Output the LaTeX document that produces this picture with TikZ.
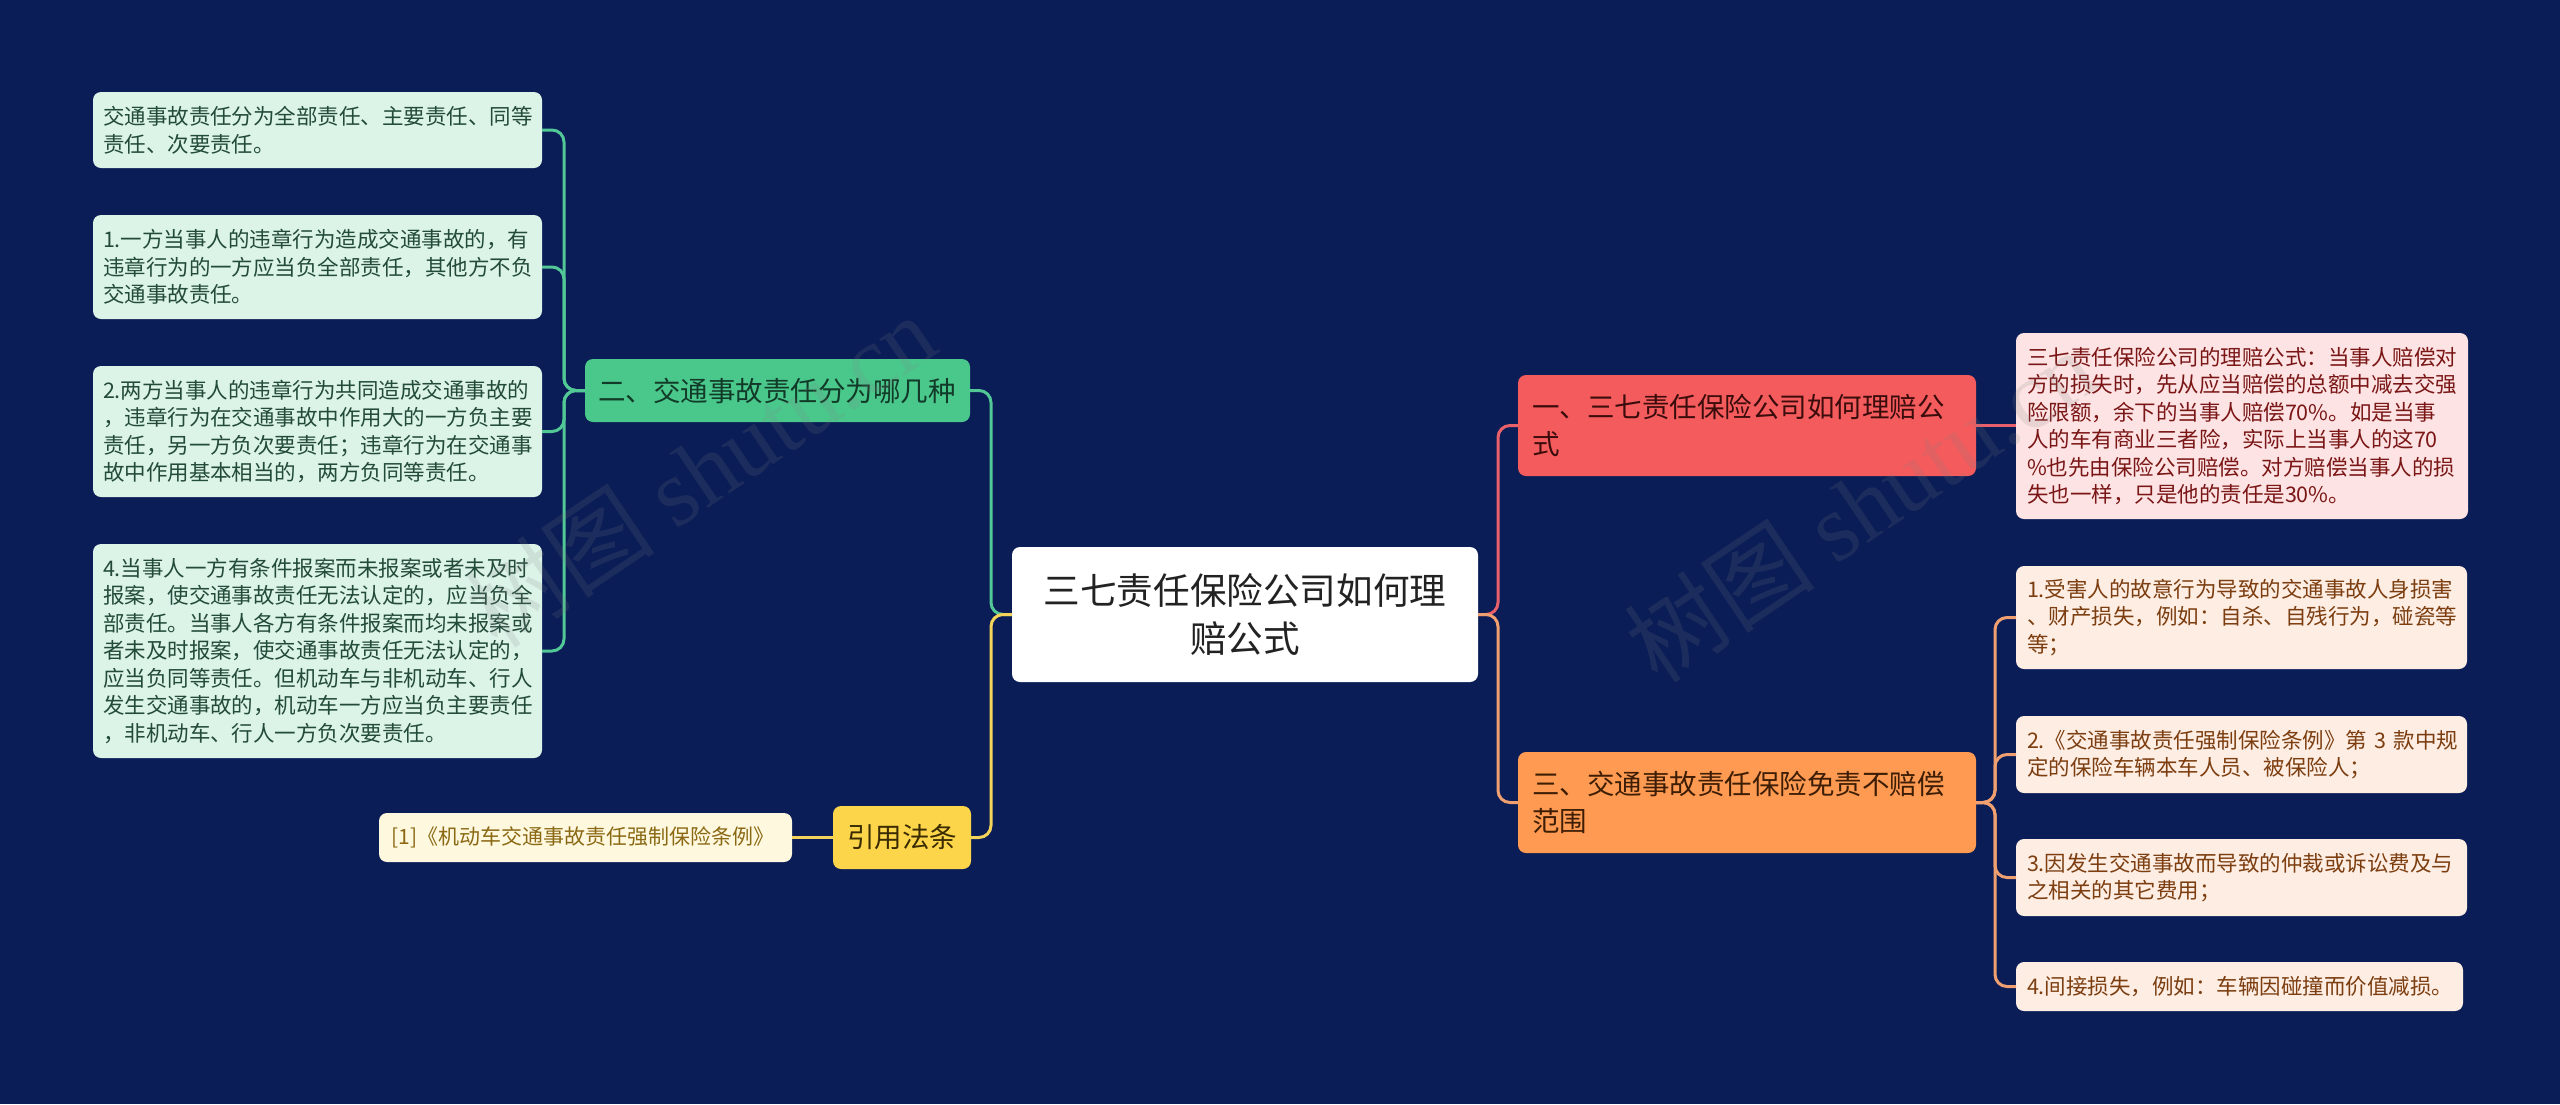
\documentclass[tikz,border=0pt]{standalone}
\usepackage{fontspec}
\setmainfont{Noto Sans CJK SC}
\newfontfamily\wmserif{Liberation Serif}
\usetikzlibrary{calc}
\definecolor{bgc}{HTML}{0A1D56}
\definecolor{rootfill}{HTML}{FFFFFF}
\definecolor{roottext}{HTML}{222222}
\definecolor{gfill}{HTML}{4AC88C}
\definecolor{gtext}{HTML}{123A28}
\definecolor{lgfill}{HTML}{DCF3E8}
\definecolor{lgtext}{HTML}{234B39}
\definecolor{gline}{HTML}{52C896}
\definecolor{rfill}{HTML}{F45B5C}
\definecolor{rtext}{HTML}{3B0C0C}
\definecolor{pkfill}{HTML}{FDE3E3}
\definecolor{pktext}{HTML}{7A1616}
\definecolor{rline}{HTML}{E8606A}
\definecolor{ofill}{HTML}{FF9A52}
\definecolor{otext}{HTML}{3D1E05}
\definecolor{pcfill}{HTML}{FDEDE3}
\definecolor{pctext}{HTML}{7C3E10}
\definecolor{oline}{HTML}{F0A070}
\definecolor{yfill}{HTML}{FDD54A}
\definecolor{ytext}{HTML}{3A2C00}
\definecolor{cfill}{HTML}{FEF8DE}
\definecolor{ctext}{HTML}{8B6914}
\definecolor{yline}{HTML}{F3D35A}
\tikzset{
  box/.style={rounded corners=4pt, inner sep=0pt, outer sep=0pt},
  rootbox/.style={box, fill=rootfill, text=roottext, align=center,
    font=\fontsize{18.3}{24}\selectfont, text width=220pt,
    minimum width=233pt, minimum height=67.5pt},
  branchbox/.style={box, align=left, font=\fontsize{13.75}{18.3}\selectfont},
  ldet/.style={box, fill=lgfill, text=lgtext, align=left,
    font=\fontsize{10.75}{13.75}\selectfont, text width=214.5pt, minimum width=224.5pt},
  pdet/.style={box, fill=pcfill, text=pctext, align=left,
    font=\fontsize{10.75}{13.75}\selectfont},
  conn/.style={line width=1.5pt, rounded corners=6pt},
  wm/.style={text=gray, opacity=0.16, font=\fontsize{48}{48}\selectfont, rotate=34, inner sep=0pt}
}
\begin{document}
\begin{tikzpicture}[x=0.5pt,y=-0.5pt]
\fill[bgc] (0,0) rectangle (2560,1104);
\useasboundingbox (0,0) rectangle (2560,1104);

% root
\node[rootbox] (root) at (1245,614.5) {三七责任保险公司如何理\\赔公式};

% right branches
\node[branchbox, fill=rfill, text=rtext, text width=215pt, minimum width=229pt, minimum height=50.5pt]
  (b1) at (1747,425.5) {一、三七责任保险公司如何理赔公\\式};
\node[box, fill=pkfill, text=pktext, align=left, font=\fontsize{10.75}{13.75}\selectfont,
  text width=215pt, minimum width=226pt, minimum height=93pt]
  (p1) at (2242,426) {三七责任保险公司的理赔公式：当事人赔偿对\\方的损失时，先从应当赔偿的总额中减去交强\\险限额，余下的当事人赔偿70\%。如是当事\\人的车有商业三者险，实际上当事人的这70\\\%也先由保险公司赔偿。对方赔偿当事人的损\\失也一样，只是他的责任是30\%。};

\node[branchbox, fill=ofill, text=otext, text width=215pt, minimum width=229pt, minimum height=50.5pt]
  (b3) at (1747,802.5) {三、交通事故责任保险免责不赔偿\\范围};
\node[pdet, text width=214.5pt, minimum width=225.5pt, minimum height=51.5pt]
  (d1) at (2241.5,617.5) {1.受害人的故意行为导致的交通事故人身损害\\、财产损失，例如：自杀、自残行为，碰瓷等\\等；};
\node[pdet, text width=214.5pt, minimum width=225.5pt, minimum height=38.5pt]
  (d2) at (2241.5,754.5) {\hbox{2.《交通事故责任强制保险条例》第~3~款中规}\\定的保险车辆本车人员、被保险人；};
\node[pdet, text width=214.5pt, minimum width=225.5pt, minimum height=38.5pt]
  (d3) at (2241.5,877.5) {3.因发生交通事故而导致的仲裁或诉讼费及与\\之相关的其它费用；};
\node[pdet, text width=212.5pt, minimum width=223.5pt, minimum height=24.5pt]
  (d4) at (2239.5,986.5) {4.间接损失，例如：车辆因碰撞而价值减损。};

% left branches
\node[branchbox, fill=gfill, text=gtext, text width=179.5pt, minimum width=192.5pt, minimum height=31.5pt]
  (b2) at (777.5,390.5) {二、交通事故责任分为哪几种};
\node[ldet, minimum height=38pt] (l1) at (317.5,130)
  {交通事故责任分为全部责任、主要责任、同等\\责任、次要责任。};
\node[ldet, minimum height=52pt] (l2) at (317.5,267)
  {1.一方当事人的违章行为造成交通事故的，有\\违章行为的一方应当负全部责任，其他方不负\\交通事故责任。};
\node[ldet, minimum height=65.5pt] (l3) at (317.5,431.5)
  {2.两方当事人的违章行为共同造成交通事故的\\，违章行为在交通事故中作用大的一方负主要\\责任，另一方负次要责任；违章行为在交通事\\故中作用基本相当的，两方负同等责任。};
\node[ldet, minimum height=107pt] (l4) at (317.5,651)
  {4.当事人一方有条件报案而未报案或者未及时\\报案，使交通事故责任无法认定的，应当负全\\部责任。当事人各方有条件报案而均未报案或\\者未及时报案，使交通事故责任无法认定的，\\应当负同等责任。但机动车与非机动车、行人\\发生交通事故的，机动车一方应当负主要责任\\，非机动车、行人一方负次要责任。};

\node[branchbox, fill=yfill, text=ytext, align=center, minimum width=69pt, minimum height=31.5pt]
  (b4) at (902,837.5) {引用法条};
\node[box, fill=cfill, text=ctext, align=left, font=\fontsize{10.5}{13}\selectfont,
  text width=194pt, minimum width=206.5pt, minimum height=24.5pt]
  (cit) at (585.5,837.5) {{[}1{]}《机动车交通事故责任强制保险条例》};

% connectors
\draw[conn, gline] (root.west) -- ++(-21,0) |- (b2.east);
\draw[conn, yline] (root.west) -- ++(-21,0) |- (b4.east);
\draw[conn, rline] (root.east) -- ++(20,0) |- (b1.west);
\draw[conn, oline] (root.east) -- ++(20,0) |- (b3.west);
\draw[conn, rline] (b1.east) -- (b1.east -| p1.west);
\foreach \n in {d1,d2,d3,d4}{
  \draw[conn, oline] (b3.east) -- ++(19,0) |- (\n.west);
}
\foreach \n in {l1,l2,l3,l4}{
  \draw[conn, gline] (b2.west) -- ++(-21,0) |- (\n.east);
}
\draw[conn, yline] (b4.west) -- (cit.east);

% watermarks
\node[wm] (wm1) at (700,470) {树图 {\wmserif shutu.cn}};
\node[wm] (wm2) at (1860,505) {树图 {\wmserif shutu.cn}};
\end{tikzpicture}
\end{document}
